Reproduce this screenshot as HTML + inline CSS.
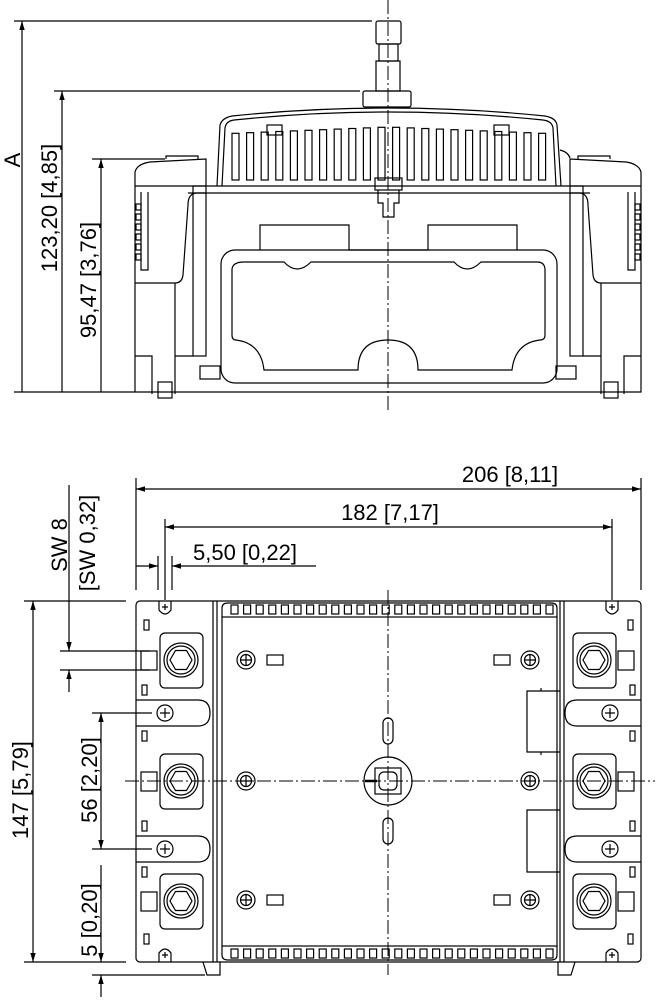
<!DOCTYPE html>
<html><head><meta charset="utf-8"><style>
html,body{margin:0;padding:0;background:#fff}
svg{display:block}
text{font-family:"Liberation Sans",sans-serif;font-size:22px;fill:#000}
</style></head><body>
<svg id="s" width="661" height="1000" viewBox="0 0 661 1000" xmlns="http://www.w3.org/2000/svg" fill="none" stroke="#000" stroke-width="1.2">
<defs>
<marker id="ar" viewBox="0 0 10 10" refX="10" refY="5" markerWidth="9" markerHeight="9" orient="auto-start-reverse" markerUnits="userSpaceOnUse"><path d="M0,2 L10,5 L0,8 z" fill="#000" stroke="none"/></marker>
</defs>
<line x1="388" y1="0" x2="388" y2="412" stroke-dasharray="14,3,2,3" stroke-width="1"/>
<line x1="14" y1="21" x2="372" y2="21"/>
<line x1="54" y1="91" x2="360" y2="91"/>
<line x1="92" y1="159" x2="165" y2="159"/>
<line x1="14" y1="392" x2="135" y2="392"/>
<line x1="22" y1="392" x2="22" y2="21" marker-end="url(#ar)"/>
<line x1="62" y1="392" x2="62" y2="91" marker-end="url(#ar)"/>
<line x1="101" y1="392" x2="101" y2="159" marker-end="url(#ar)"/>
<text transform="translate(20,160) rotate(-90)" text-anchor="middle" stroke="none">A</text>
<text transform="translate(57,208) rotate(-90)" text-anchor="middle" stroke="none">123,20 [4,85]</text>
<text transform="translate(96,280) rotate(-90)" text-anchor="middle" stroke="none">95,47 [3,76]</text>
<rect x="376" y="21" width="25" height="23" rx="2"/>
<rect x="379" y="44" width="19" height="17"/>
<rect x="376" y="61" width="24" height="30"/>
<rect x="363" y="91" width="48" height="16" rx="2"/>
<path d="M217,186 L220,125 Q222,118 232,116 Q388,100 545,116 Q556,118 557,125 L561,186"/>
<path d="M222,186 L225,128 Q226,121 234,120 Q388,104 543,120 Q552,121 553,128 L556,186"/>
<path d="M560,150 Q568,152 570,158"/>
<g id="fins"></g>
<rect x="375" y="178" width="27" height="12"/>
<path d="M378,190 L378,203 L383,203 L383,217 L394,217 L394,203 L399,203 L399,190"/>
<path d="M135,186 L135,172 Q137,164 150,162 L206,159 L206,186"/>
<path d="M166,159 L166,156 L198,156 L198,159"/>
<path d="M641,186 L641,172 Q639,164 626,162 L570,159 L570,186"/>
<path d="M578,159 L578,156 L610,156 L610,159"/>
<line x1="135" y1="186" x2="641" y2="186"/>
<line x1="188" y1="193" x2="590" y2="193"/>
<path d="M135,186 L135,392 L641,392 L641,186"/>
<path d="M206,193 L196,193 Q188,194 188,205 L183,275 Q182,283 175,283 L135,283"/>
<path d="M570,193 L580,193 Q588,194 588,205 L593,275 Q594,283 601,283 L641,283"/>
<rect x="193" y="186" width="13" height="170"/>
<rect x="570" y="186" width="13" height="170"/>
<path d="M135,356 L152,356 L152,394 M175,394 L175,283 M175,356 L193,356"/>
<path d="M641,356 L624,356 L624,394 M601,394 L601,283 M601,356 L583,356"/>
<path d="M141,192 L141,270 L148,270 L148,192"/>
<path d="M635,192 L635,270 L628,270 L628,192"/>
<g id="ribs"></g>
<rect x="158" y="382" width="14" height="16"/>
<rect x="604" y="382" width="14" height="16"/>
<rect x="200" y="366" width="20" height="13"/>
<rect x="556" y="366" width="20" height="13"/>
<rect x="221" y="250" width="336" height="133" rx="14"/>
<path d="M260,250 L260,225 L349,225 L349,250 L428,250 L428,225 L517,225 L517,250"/>
<path d="M244,262 L284,262 Q297,276 311,262 L454,262 Q467,276 481,262 L537,262 Q545,262 545,270 L545,335 Q545,340 540,340 Q515,343 512,370 L418,370 Q418,340 388,340 Q358,340 358,370 L264,370 Q261,343 236,340 Q232,340 232,335 L232,270 Q232,262 244,262"/>

<line x1="136" y1="478" x2="136" y2="590"/>
<line x1="641" y1="478" x2="641" y2="590"/>
<line x1="136" y1="489" x2="641" y2="489" marker-start="url(#ar)" marker-end="url(#ar)"/>
<text x="510" y="482" text-anchor="middle" stroke="none">206 [8,11]</text>
<line x1="165" y1="519" x2="165" y2="600"/>
<line x1="612" y1="519" x2="612" y2="600"/>
<line x1="165" y1="527" x2="612" y2="527" marker-start="url(#ar)" marker-end="url(#ar)"/>
<text x="390" y="520" text-anchor="middle" stroke="none">182 [7,17]</text>
<line x1="158" y1="556" x2="158" y2="590"/>
<line x1="172" y1="556" x2="172" y2="590"/>
<line x1="136" y1="566" x2="158" y2="566" marker-end="url(#ar)"/>
<line x1="316" y1="566" x2="172" y2="566" marker-end="url(#ar)"/>
<text x="193" y="560" stroke="none">5,50 [0,22]</text>
<text transform="translate(67,545) rotate(-90)" text-anchor="middle" stroke="none">SW 8</text>
<text transform="translate(95,543) rotate(-90)" text-anchor="middle" stroke="none">[SW 0,32]</text>
<line x1="69" y1="485" x2="69" y2="651" marker-end="url(#ar)"/>
<line x1="69" y1="692" x2="69" y2="670" marker-end="url(#ar)"/>
<line x1="60" y1="651" x2="150" y2="651"/>
<line x1="60" y1="670" x2="150" y2="670"/>
<line x1="24" y1="601" x2="126" y2="601"/>
<line x1="24" y1="962" x2="126" y2="962"/>
<line x1="33" y1="601" x2="33" y2="962" marker-start="url(#ar)" marker-end="url(#ar)"/>
<text transform="translate(28,790) rotate(-90)" text-anchor="middle" stroke="none">147 [5,79]</text>
<line x1="92" y1="713" x2="152" y2="713"/>
<line x1="92" y1="849" x2="152" y2="849"/>
<line x1="101" y1="713" x2="101" y2="849" marker-start="url(#ar)" marker-end="url(#ar)"/>
<text transform="translate(97,780) rotate(-90)" text-anchor="middle" stroke="none">56 [2,20]</text>
<line x1="92" y1="975" x2="205" y2="975"/>
<line x1="101" y1="865" x2="101" y2="962" marker-end="url(#ar)"/>
<line x1="101" y1="997" x2="101" y2="975" marker-end="url(#ar)"/>
<text transform="translate(97,920) rotate(-90)" text-anchor="middle" stroke="none">5 [0,20]</text>
<line x1="388" y1="590" x2="388" y2="975" stroke-dasharray="14,3,2,3" stroke-width="1"/>
<line x1="125" y1="781" x2="655" y2="781" stroke-dasharray="14,3,2,3" stroke-width="1"/>
<rect x="136" y="601" width="505" height="361" rx="4"/>
<line x1="213" y1="601" x2="213" y2="962"/>
<line x1="217" y1="601" x2="217" y2="962"/>
<line x1="564" y1="601" x2="564" y2="962"/>
<line x1="560" y1="601" x2="560" y2="962"/>
<rect x="222" y="617" width="335" height="329"/>
<path d="M222,617 L222,608 Q222,603 228,603 L551,603 Q557,603 557,608 L557,617"/>
<path d="M222,946 L222,955 Q222,960 228,960 L551,960 Q557,960 557,955 L557,946"/>
<path d="M203,962 L207,975 L220,975 L220,962 M558,962 L558,975 L571,975 L575,962"/>
<g id="fins2"></g>
<g id="cols"></g>
<circle cx="388" cy="781" r="24"/>
<rect x="375" y="768" width="26" height="26"/>
<rect x="379" y="772" width="18" height="18" rx="5"/>
<line x1="365" y1="781" x2="377" y2="781" stroke-width="2.5"/>
<rect x="383" y="718" width="10" height="26" rx="5"/>
<rect x="383" y="818" width="10" height="26" rx="5"/>
<path d="M560,691 L527,691 L527,752 L560,752 M541,691 L541,688 M541,752 L541,755"/>
<path d="M560,810 L527,810 L527,872 L560,872"/>
</svg>
<script>
var NS="http://www.w3.org/2000/svg";
function el(p,t,a){var e=document.createElementNS(NS,t);for(var k in a)e.setAttribute(k,a[k]);document.getElementById(p).appendChild(e);return e;}
for(var i=0;i<22;i++){var x=232+i*14.6;var yt=127+Math.abs(i-10.5)*0.6;el("fins","rect",{x:x,y:yt,width:7,height:180-yt});}
el("fins","rect",{x:267,y:125,width:15,height:10});
el("fins","rect",{x:494,y:125,width:15,height:10});
for(var j=0;j<6;j++){el("ribs","rect",{x:136,y:204+j*10,width:5,height:6});el("ribs","rect",{x:635,y:204+j*10,width:5,height:6});}
for(var i=0;i<26;i++){var x=231+i*12.6;el("fins2","rect",{x:x,y:605,width:7,height:9});el("fins2","rect",{x:x,y:949,width:7,height:9});}
function hex(cx,cy,r){var s="";for(var k=0;k<6;k++){var a=Math.PI/3*k;s+=(cx+r*Math.cos(a))+","+(cy+r*Math.sin(a))+" ";}return s;}
[[181,1],[594,-1]].forEach(function(c){var cx=c[0],d=c[1];
 [660,781,901].forEach(function(cy){
  el("cols","rect",{x:cx-21,y:cy-27,width:43,height:55,rx:5});
  el("cols","circle",{cx:cx,cy:cy,r:17});el("cols","circle",{cx:cx,cy:cy,r:14});
  el("cols","polygon",{points:hex(cx,cy,11)});
  var sx=d>0?cx-40:cx+24;el("cols","rect",{x:sx,y:cy-9,width:16,height:19});
 });
 [713,849].forEach(function(cy){
  var px=d>0?cx-16:cx+16;
  var tip=d>0?cx+25:cx-25,base=d>0?136:641;
  el("cols","path",{d:"M"+base+","+(cy-13)+" L"+(tip-d*8)+","+(cy-13)+" Q"+(tip+d*4)+","+(cy-13)+" "+(tip+d*4)+","+cy+" Q"+(tip+d*4)+","+(cy+13)+" "+(tip-d*8)+","+(cy+13)+" L"+base+","+(cy+13)});
  el("cols","circle",{cx:px,cy:cy,r:8});
  el("cols","path",{d:"M"+(px-5)+","+cy+" h10 M"+px+","+(cy-5)+" v10"});
  el("cols","rect",{x:(d>0?142:630),y:cy-28,width:5,height:10});
  el("cols","rect",{x:(d>0?142:630),y:cy+18,width:5,height:10});
 });
 var pinx=d>0?165:612;
 [607,955].forEach(function(py){el("cols","path",{d:"M"+(pinx-3)+","+py+" h6 M"+pinx+","+(py-3)+" v6"});});
 el("cols","path",{d:"M"+(pinx-6)+",601 L"+(pinx-6)+",610 Q"+pinx+",618 "+(pinx+6)+",610 L"+(pinx+6)+",601"});
 el("cols","path",{d:"M"+(pinx-6)+",962 L"+(pinx-6)+",953 Q"+pinx+",945 "+(pinx+6)+",953 L"+(pinx+6)+",962"});
 el("cols","rect",{x:(d>0?144:628),y:620,width:5,height:10});
 el("cols","rect",{x:(d>0?144:628),y:934,width:5,height:10});
});
[[246,660],[246,781],[246,900],[530,660],[530,781],[530,900]].forEach(function(p){
 el("cols","circle",{cx:p[0],cy:p[1],r:9});el("cols","circle",{cx:p[0],cy:p[1],r:5.5});
 el("cols","path",{d:"M"+(p[0]-5)+","+p[1]+" h10 M"+p[0]+","+(p[1]-5)+" v10"});
});
[[267,655],[267,895],[494,655],[494,895]].forEach(function(p){el("cols","rect",{x:p[0],y:p[1],width:16,height:10});});
</script>
</body></html>
